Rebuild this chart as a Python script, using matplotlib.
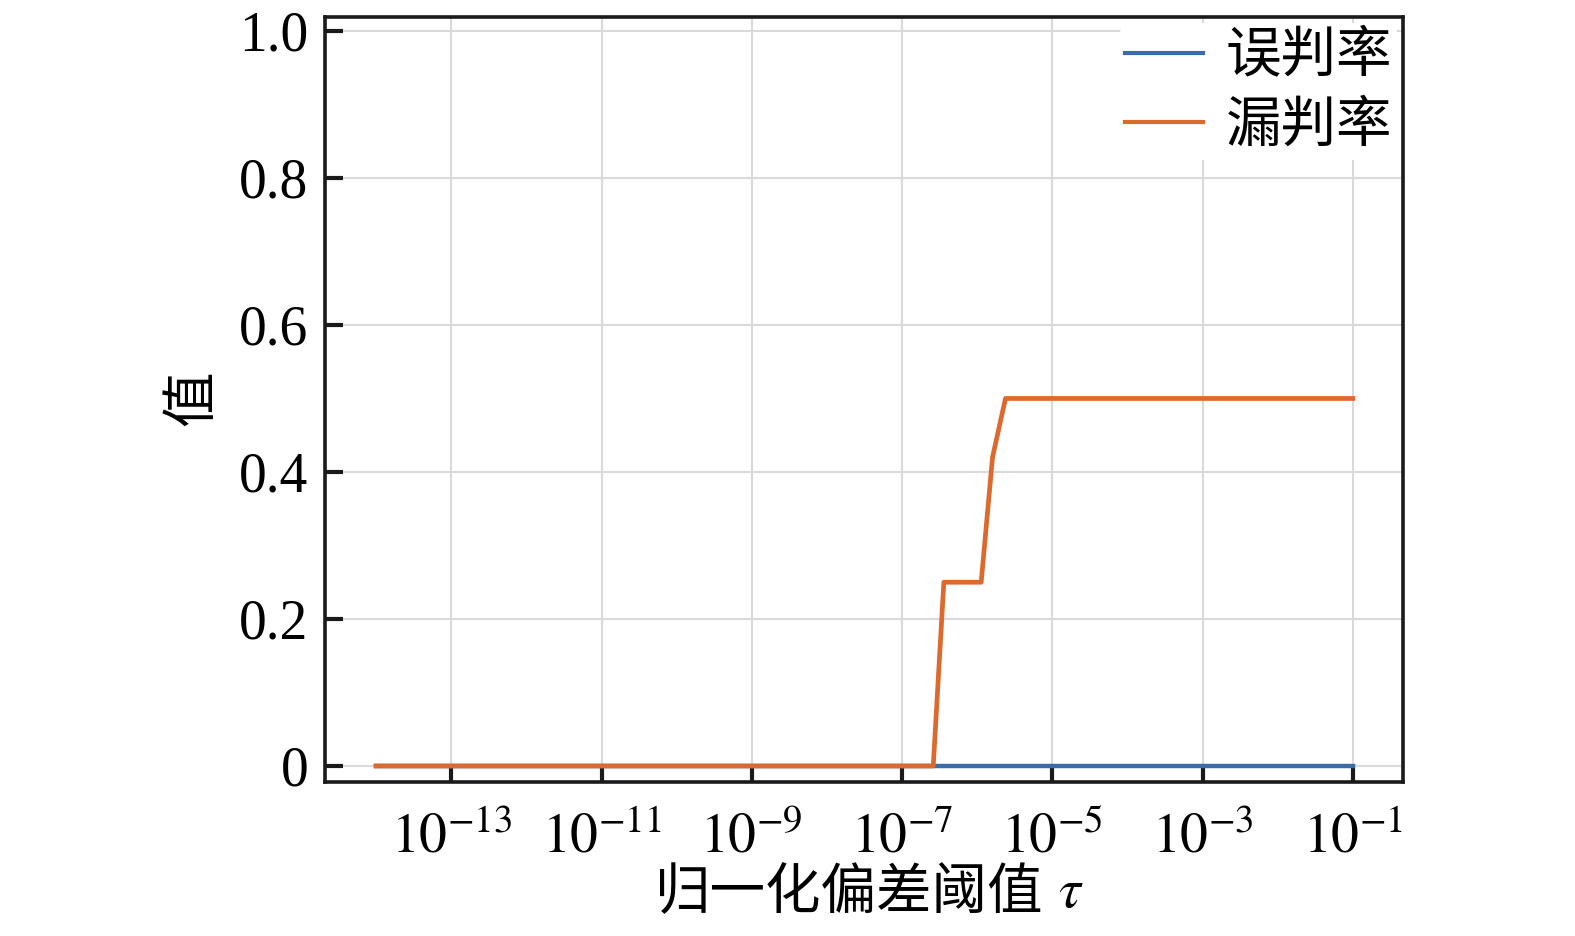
import math
import matplotlib
matplotlib.use("Agg")
import matplotlib.pyplot as plt
from matplotlib.ticker import FixedLocator, FuncFormatter, NullLocator

plt.rcParams['font.family'] = ['Liberation Serif', 'Noto Sans CJK SC']
plt.rcParams['mathtext.fontset'] = 'stix'
plt.rcParams['axes.unicode_minus'] = True

# data
tau = [1e-14, 2.6e-7, 3.6e-7, 1.13e-6, 1.6e-6, 2.38e-6, 1e-1]
false_rate = [0, 0, 0, 0, 0, 0, 0]
miss_rate = [0, 0, 0.25, 0.25, 0.42, 0.5, 0.5]
series_labels = ['误判率', '漏判率']
xtick_exps = [-13, -11, -9, -7, -5, -3, -1]
yticks = [0, 0.2, 0.4, 0.6, 0.8, 1.0]
ytick_labels = ['0', '0.2', '0.4', '0.6', '0.8', '1.0']
xlabel_text = '归一化偏差阈值'
xlabel_symbol = r'$\tau$'
ylabel_text = '值'

W, H = 1575, 936
fig = plt.figure(figsize=(W / 100, H / 100), dpi=100)
ax = fig.add_axes([325/W, 1-782/H, (1403-325)/W, (782-17)/H])

ax.plot(tau, false_rate, color='#3C6CA8', lw=3.2, label=series_labels[0], zorder=3)
ax.plot(tau, miss_rate, color='#DC6A2F', lw=3.4, label=series_labels[1], zorder=4)

ax.set_xscale('log')
ax.set_xlim(10**-14.68, 10**-0.333)
ax.set_ylim(-0.0218, 1.019)

ax.xaxis.set_major_locator(FixedLocator([10.0**e for e in xtick_exps]))
ax.xaxis.set_major_formatter(FuncFormatter(lambda v, p: r'$10^{%d}$' % round(math.log10(v))))
ax.xaxis.set_minor_locator(NullLocator())
ax.set_yticks(yticks)
ax.set_yticklabels(ytick_labels)

ax.grid(True, color='#d9d9d9', lw=1.5, zorder=0)
ax.set_axisbelow(True)
ax.tick_params(axis='both', which='major', direction='in', length=13, width=3,
               labelsize=40, top=False, right=False, color='#1a1a1a')
ax.tick_params(axis='x', pad=22)
ax.tick_params(axis='y', pad=12)
for s in ax.spines.values():
    s.set_linewidth(2.6)
    s.set_color('#1a1a1a')

# x label: Chinese text + italic tau
fig.text(1043/W, 1-893/H, xlabel_text, fontsize=40, ha='right', va='center',
         family=['Noto Sans CJK SC', 'DejaVu Sans'])
fig.text(1058/W, 1-893/H, xlabel_symbol, fontsize=40, ha='left', va='center')
fig.text(192/W, 1-398/H, ylabel_text, fontsize=40, ha='center', va='center',
         rotation=90, family=['Noto Sans CJK SC', 'DejaVu Sans'])

leg = ax.legend(loc='upper right', fontsize=40, frameon=True, framealpha=1,
                edgecolor='none', facecolor='white', handlelength=1.4,
                borderaxespad=0.1, labelspacing=0.2, handletextpad=0.4,
                borderpad=0.1, prop={'family': ['Noto Sans CJK SC', 'DejaVu Sans'], 'size': 40})
for line in leg.get_lines():
    line.set_linewidth(3)

fig.savefig('out.png', dpi=100)
